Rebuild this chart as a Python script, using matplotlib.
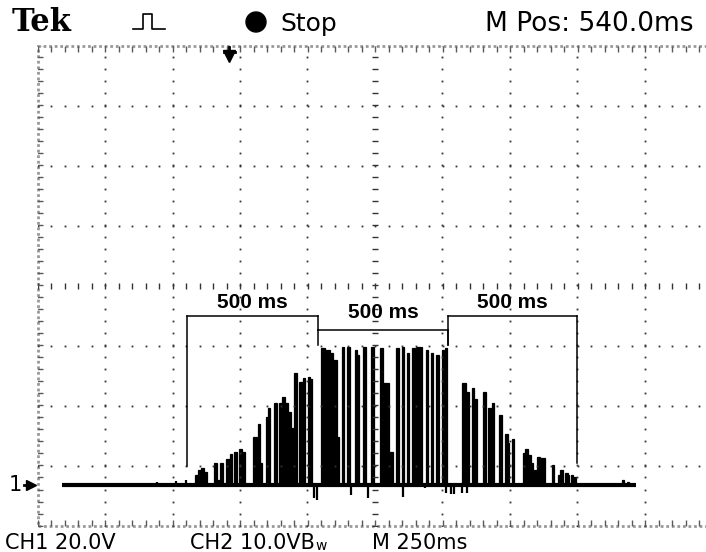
import numpy as np
import matplotlib.pyplot as plt
from matplotlib.patches import Ellipse, Rectangle
from matplotlib.lines import Line2D

# scope settings
ch1_volts_per_div = 20.0
ms_per_div = 250.0
m_pos_ms = 540.0
ch1_offset_div = -3.32

# record, ms from the left edge of the screen
trace_start_ms = 91
trace_end_ms = 2215

# pulses (start ms, end ms, volts)
pulse_start_ms = [583, 594, 606, 617, 654, 665, 676, 698, 713, 728, 746, 757, 798, 817, 824,
                  846, 854, 876, 894, 906, 917, 928, 939, 950, 969, 983, 1002, 1009,
                  1050, 1065, 1083, 1094, 1109, 1128, 1146, 1176, 1183, 1204, 1237,
                  1267, 1281, 1302, 1328, 1350, 1369, 1387, 1402, 1439, 1457, 1476, 1498, 1509,
                  1572, 1587, 1609, 1617, 1650, 1669, 1683, 1709, 1731, 1743, 1757,
                  1798, 1806, 1817, 1828, 1839, 1850, 1861, 1906, 1928, 1935, 1954, 1965,
                  1976, 1983, 2165, 2183]
pulse_end_ms = [594, 606, 617, 628, 665, 676, 687, 713, 720, 739, 757, 769, 813, 824, 831,
                854, 861, 887, 906, 917, 928, 939, 950, 961, 983, 991, 1009, 1017,
                1065, 1083, 1094, 1109, 1117, 1135, 1157, 1183, 1191, 1215, 1248,
                1281, 1302, 1317, 1339, 1357, 1376, 1398, 1424, 1446, 1465, 1487, 1506, 1517,
                1587, 1598, 1617, 1628, 1661, 1683, 1691, 1720, 1743, 1746, 1765,
                1806, 1817, 1828, 1835, 1850, 1861, 1880, 1913, 1935, 1946, 1965, 1969,
                1983, 1994, 2172, 2191]
pulse_volts = [3.3, 5.0, 5.7, 4.3, 7.3, 1.7, 7.3, 8.7, 10.3, 11.0, 12.0, 11.0, 16.0, 20.3, 7.3,
               22.7, 25.7, 27.3, 27.3, 29.3, 27.3, 24.3, 19.0, 37.3, 34.3, 35.7, 36.0, 35.3,
               45.7, 45.0, 44.0, 41.7, 16.0, 46.0, 46.0, 45.0, 43.3, 46.0, 46.0,
               45.7, 34.0, 11.0, 45.7, 46.0, 44.0, 45.7, 46.0, 45.0, 44.0, 43.3, 45.0, 45.7,
               34.0, 31.0, 32.3, 28.7, 31.0, 25.7, 27.3, 23.3, 17.0, 14.0, 15.3,
               10.7, 12.0, 10.0, 7.3, 5.0, 9.3, 9.0, 6.7, 3.3, 5.0, 4.0, 3.3,
               3.3, 2.7, 1.7, 1.0]

# narrow spikes / noise on the trace
spike_ms = [168, 213, 443, 476, 513, 550, 1024, 1035, 1161, 1224, 1354, 1435, 1513, 1531,
            1543, 1572, 1591]
spike_volts = [-0.7, -0.7, 1.0, -0.7, 1.3, 1.7, -4.3, -5.0, -3.3, -4.3, -4.0, -1.0, -2.7, -3.0,
               -3.0, -2.7, -2.7]

bracket_start_ms = [554, 1039, 1520]
bracket_end_ms = [1039, 1520, 1998]
bracket_labels = ["500 ms", "500 ms", "500 ms"]


def tx(t):
    return np.asarray(t, dtype=float) / ms_per_div - 5


def vy(v):
    return np.asarray(v, dtype=float) / ch1_volts_per_div + ch1_offset_div


W, H = 706, 552
fig = plt.figure(figsize=(W / 100, H / 100), dpi=100)
fig.patch.set_facecolor("white")
left_px, top_px, div_w, div_h = 37.5, 45.5, 67.5, 60.0
ax = fig.add_axes([left_px / W, (H - top_px - 8 * div_h) / H, 10 * div_w / W, 8 * div_h / H])
ax.set_xlim(-5, 5)
ax.set_ylim(-4, 4)
ax.axis("off")

# graticule
fine_y = np.arange(-4, 4.01, 0.2)
fine_x = np.arange(-5, 5.01, 0.2)
for gx in range(-4, 5):
    if gx == 0:
        ax.plot(np.zeros_like(fine_y), fine_y, ls="none", marker="_", ms=4, mew=1, color="0.2")
    else:
        ax.plot(np.full_like(fine_y, gx), fine_y, ls="none", marker="s", ms=1.3, mew=0, color="0.2")
for gy in range(-3, 4):
    if gy == 0:
        ax.plot(fine_x, np.zeros_like(fine_x), ls="none", marker="|", ms=4, mew=1, color="0.2")
    else:
        ax.plot(fine_x, np.full_like(fine_x, gy), ls="none", marker="s", ms=1.3, mew=0, color="0.2")

ax.add_patch(Rectangle((0, 0), 1, 1, transform=ax.transAxes, fill=False,
                       ec="0.6", lw=2, ls=(0, (1, 1)), clip_on=False))
ax.plot(fine_x, np.full_like(fine_x, 3.95), ls="none", marker="|", ms=4, mew=1, color="0.35")
ax.plot(fine_x, np.full_like(fine_x, -3.95), ls="none", marker="|", ms=4, mew=1, color="0.35")
ax.plot(np.full_like(fine_y, -4.96), fine_y, ls="none", marker="_", ms=4, mew=1, color="0.35")

# trace
ax.plot(tx([trace_start_ms, trace_end_ms]), [ch1_offset_div] * 2, color="black", lw=3,
        solid_capstyle="butt")
starts = tx(pulse_start_ms)
ends = tx(pulse_end_ms)
ax.bar(starts, np.asarray(pulse_volts) / ch1_volts_per_div, width=ends - starts,
       bottom=ch1_offset_div, align="edge", color="black", edgecolor="black", linewidth=0.9)
ax.vlines(tx(spike_ms), ch1_offset_div, vy(spike_volts), color="black", lw=1.6)

# 500 ms brackets
bracket_y = [-0.51, -0.74, -0.51]
left_drop = [-3.0, -0.99, -0.99]
right_drop = [-0.74, -0.99, -2.96]
label_y = [-0.28, -0.45, -0.28]
for s, e, by, ld, rd, ly, lab in zip(bracket_start_ms, bracket_end_ms, bracket_y, left_drop,
                                     right_drop, label_y, bracket_labels):
    x0, x1 = tx(s), tx(e)
    ax.plot([x0, x1], [by, by], color="black", lw=1.1)
    ax.plot([x0, x0], [by, ld], color="black", lw=1.1)
    ax.plot([x1, x1], [by, rd], color="black", lw=1.1)
    ax.text((x0 + x1) / 2, ly, lab, ha="center", va="center", fontsize=15,
            fontweight="bold", family="Liberation Sans")

# ground marker for channel 1 and trigger marker
ax.plot(-5.1, ch1_offset_div, marker=">", ms=7, color="black", clip_on=False)
ax.plot([-5.2, -5.1], [ch1_offset_div] * 2, color="black", lw=2, clip_on=False)
ax.text(-5.33, ch1_offset_div, "1", ha="center", va="center", fontsize=15, clip_on=False)
trig_x = -m_pos_ms / ms_per_div
ax.plot(trig_x, 3.82, marker="v", ms=8, color="black", clip_on=False)
ax.plot([trig_x - 0.08, trig_x + 0.08], [3.9, 3.9], color="black", lw=2, clip_on=False)
ax.plot([trig_x, trig_x], [3.98, 3.85], color="black", lw=2, clip_on=False)


def fxy(x, y):
    return x / W, 1 - y / H


# header
fig.text(*fxy(12, 31), "Tek", fontsize=22, fontweight="bold", family="DejaVu Serif",
         va="baseline")
icon = [(133, 29), (143, 29), (143, 14), (152, 14), (152, 29), (165, 29)]
fig.add_artist(Line2D([p[0] / W for p in icon], [1 - p[1] / H for p in icon],
                      transform=fig.transFigure, color="black", lw=1.2))
fig.add_artist(Ellipse(fxy(256, 22), 20 / W, 20 / H, transform=fig.transFigure,
                       color="black"))
fig.text(*fxy(280, 31), "Stop", fontsize=18, va="baseline")
fig.text(*fxy(485, 31), "M Pos: " + f"{m_pos_ms:.1f}ms", fontsize=19, va="baseline")

# footer
fig.text(*fxy(5, 549), f"CH1 {ch1_volts_per_div:.1f}V", fontsize=15, va="baseline")
fig.text(*fxy(190, 549), "CH2 10.0VB", fontsize=15, va="baseline")
fig.text(*fxy(315, 550), "w", fontsize=10, va="baseline")
fig.text(*fxy(372, 549), f"M {ms_per_div:.0f}ms", fontsize=15, va="baseline")

fig.savefig("out.png", dpi=100)
